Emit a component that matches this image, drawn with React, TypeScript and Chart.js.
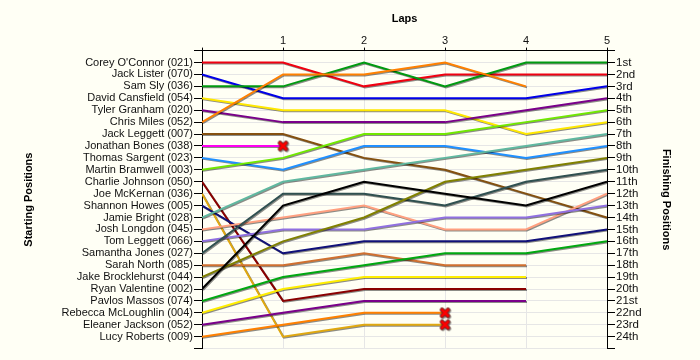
import React, { useEffect, useRef } from "react";
import { Chart, registerables } from "chart.js";

Chart.register(...registerables);

const laps = [0, 1, 2, 3, 4, 5];
const drivers = [
  "Corey O'Connor (021)", "Jack Lister (070)", "Sam Sly (036)", "David Cansfield (054)",
  "Tyler Granham (020)", "Chris Miles (052)", "Jack Leggett (007)", "Jonathan Bones (038)",
  "Thomas Sargent (023)", "Martin Bramwell (003)", "Charlie Johnson (050)", "Joe McKernan (036)",
  "Shannon Howes (005)", "Jamie Bright (028)", "Josh Longdon (045)", "Tom Leggett (066)",
  "Samantha Jones (027)", "Sarah North (085)", "Jake Brocklehurst (044)", "Ryan Valentine (002)",
  "Pavlos Massos (074)", "Rebecca McLoughlin (004)", "Eleaner Jackson (052)", "Lucy Roberts (009)",
];
const finishLabels = [
  "1st", "2nd", "3rd", "4th", "5th", "6th", "7th", "8th", "9th", "10th", "11th", "12th",
  "13th", "14th", "15th", "16th", "17th", "18th", "19th", "20th", "21st", "22nd", "23rd", "24th",
];
const positions: number[][] = [
  [1, 1, 3, 2, 2, 2],
  [2, 4, 4, 4, 4, 3],
  [3, 3, 1, 3, 1, 1],
  [4, 5, 5, 5, 7, 6],
  [5, 6, 6, 6, 5, 4],
  [6, 2, 2, 1, 3],
  [7, 7, 9, 10, 12, 14],
  [8, 8],
  [9, 10, 8, 8, 9, 8],
  [10, 9, 7, 7, 6, 5],
  [11, 21, 20, 20, 20],
  [12, 24, 23, 23],
  [13, 17, 16, 16, 16, 15],
  [14, 11, 10, 9, 8, 7],
  [15, 14, 13, 15, 15, 12],
  [16, 15, 15, 14, 14, 13],
  [17, 12, 12, 13, 11, 10],
  [18, 18, 17, 18, 18],
  [19, 16, 14, 11, 10, 9],
  [20, 13, 11, 12, 13, 11],
  [21, 19, 18, 17, 17, 16],
  [22, 20, 19, 19, 19],
  [23, 22, 21, 21, 21],
  [24, 23, 22, 22],
];
const colors = [
  "#f00010", "#0000e8", "#009a10", "#ffe800", "#7a008a", "#ff8000", "#84500f", "#ff00f0",
  "#2090ff", "#70e800", "#8a0000", "#e0a810", "#101078", "#60b8a0", "#ffa080", "#9070e0",
  "#305050", "#d07030", "#808000", "#000000", "#00a810", "#ffee00", "#7a008a", "#ff8000",
];
const retired = [7, 11, 23];

const font = "'Liberation Sans', Arial, sans-serif";

function makeCross(): HTMLCanvasElement {
  const c = document.createElement("canvas");
  c.width = 13;
  c.height = 13;
  const g = c.getContext("2d")!;
  const stroke = (color: string, w: number) => {
    g.strokeStyle = color;
    g.lineWidth = w;
    g.lineCap = "round";
    g.beginPath();
    g.moveTo(3.5, 3.5);
    g.lineTo(9.5, 9.5);
    g.moveTo(9.5, 3.5);
    g.lineTo(3.5, 9.5);
    g.stroke();
  };
  stroke("#7a2020", 4.5);
  stroke("#ff0000", 2.5);
  return c;
}

const shadowPlugin = {
  id: "lineShadow",
  beforeDatasetsDraw(chart: any) {
    const c = chart.ctx;
    c.save();
    c.shadowColor = "rgba(0,0,0,0.45)";
    c.shadowOffsetX = 1;
    c.shadowOffsetY = 1;
    c.shadowBlur = 0;
  },
  afterDatasetsDraw(chart: any) {
    chart.ctx.restore();
  },
};

const bgPlugin = {
  id: "bg",
  beforeDraw(chart: any) {
    const c = chart.ctx;
    c.save();
    c.fillStyle = "#fffff5";
    c.fillRect(0, 0, chart.width, chart.height);
    c.restore();
  },
};

export default function App() {
  const ref = useRef<HTMLCanvasElement>(null);
  useEffect(() => {
    const cross = makeCross();
    const datasets = positions.map((vals, i) => ({
      label: drivers[i],
      data: vals.map((v, k) => ({ x: laps[k], y: v })),
      borderColor: colors[i],
      backgroundColor: colors[i],
      borderWidth: 2,
      tension: 0,
      fill: false,
      order: -i,
      yAxisID: "y",
      pointStyle: cross as any,
      pointRadius: vals.map((_, k) => (retired.includes(i) && k === vals.length - 1 ? 6 : 0)),
      pointHoverRadius: 0,
    }));
    const chart = new Chart(ref.current!, {
      type: "line",
      data: { datasets },
      plugins: [bgPlugin, shadowPlugin],
      options: {
        animation: false,
        responsive: false,
        layout: { padding: { bottom: 11.4 } },
        plugins: { legend: { display: false }, title: { display: false }, tooltip: { enabled: false } },
        scales: {
          x: {
            type: "linear",
            position: "top",
            min: 0,
            max: 5,
            afterFit: (s: any) => { s.height = 50.6; },
            border: { color: "#000", width: 1 },
            grid: { color: "#e6e6e6", tickColor: "#000", tickLength: 3 },
            ticks: {
              stepSize: 1,
              maxRotation: 0,
              color: "#111",
              padding: 0,
              font: { family: font, size: 11 },
              callback: (v: any) => (v === 0 ? "" : String(v)),
            },
            title: {
              display: true,
              text: "Laps",
              color: "#000",
              font: { family: font, size: 11, weight: "bold" },
              padding: { top: 12, bottom: 0 },
            },
          },
          y: {
            type: "linear",
            position: "left",
            reverse: true,
            min: 0,
            max: 25,
            afterFit: (s: any) => { s.width = 202; },
            border: { color: "#000", width: 1 },
            grid: { color: "#e6e6e6", tickColor: "#000", tickLength: 8 },
            ticks: {
              stepSize: 1,
              autoSkip: false,
              color: "#111",
              padding: 1,
              font: { family: font, size: 11 },
              callback: (v: any) => drivers[v - 1] ?? "",
            },
            title: {
              display: true,
              text: "Starting Positions",
              color: "#000",
              font: { family: font, size: 11, weight: "bold" },
              padding: { top: 22, bottom: 0 },
            },
          },
          y2: {
            type: "linear",
            position: "right",
            reverse: true,
            min: 0,
            max: 25,
            afterFit: (s: any) => { s.width = 93; },
            border: { color: "#000", width: 1 },
            grid: { drawOnChartArea: false, tickColor: "#000", tickLength: 8 },
            ticks: {
              stepSize: 1,
              autoSkip: false,
              color: "#111",
              padding: 1,
              font: { family: font, size: 11.5 },
              callback: (v: any) => finishLabels[v - 1] ?? "",
            },
            title: {
              display: true,
              text: "Finishing Positions",
              color: "#000",
              font: { family: font, size: 11, weight: "bold" },
              padding: { top: 27, bottom: 0 },
            },
          },
        },
      },
    } as any);
    return () => chart.destroy();
  }, []);
  return (
    <div style={{ position: "absolute", left: 0, top: 0, width: 700, height: 360 }}>
      <canvas ref={ref} width={700} height={360} style={{ display: "block" }} />
    </div>
  );
}
